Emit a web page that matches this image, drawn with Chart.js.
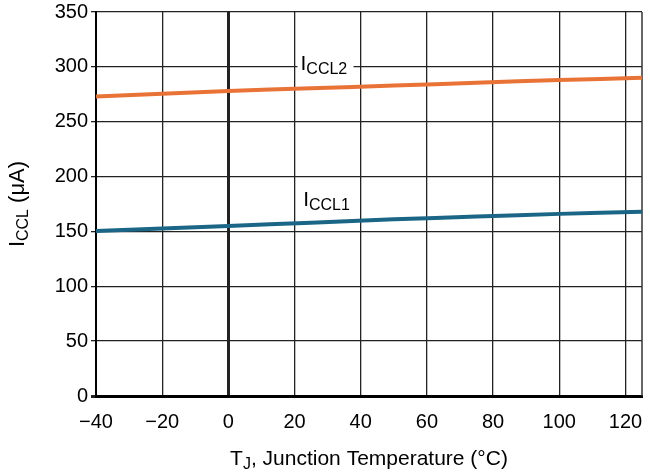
<!DOCTYPE html>
<html>
<head>
<meta charset="utf-8">
<script src="https://cdn.jsdelivr.net/npm/chart.js@4.4.1/dist/chart.umd.min.js"></script>
<style>
  html, body { margin: 0; padding: 0; background: #fff; }
  #wrap { width: 650px; height: 475px; }
</style>
</head>
<body>
<div id="wrap"><canvas id="chart"></canvas></div>
<script>
// values
const temps = [-40, 0, 25, 50, 75, 100, 125];
const iccl1 = [150.5, 155, 158, 161, 163.5, 166, 168];
const iccl2 = [273, 278, 280.5, 283, 285.5, 288, 290];
const xTicks = [-40, -20, 0, 20, 40, 60, 80, 100, 120];
const yTicks = [0, 50, 100, 150, 200, 250, 300, 350];

const FONT = '"Liberation Sans", Arial, Helvetica, sans-serif';

function toPoints(ys) {
    return temps.map(function (t, i) { return { x: t, y: ys[i] }; });
}

// draw "main" + subscript pieces one after another
function drawParts(ctx, parts, x, y, size, align) {
    var subSize = Math.round(size * 0.74);
    var width = 0;
    parts.forEach(function (p) {
        ctx.font = (p.sub ? subSize : size) + 'px ' + FONT;
        p.w = ctx.measureText(p.t).width;
        width += p.w;
    });
    var cx = align === 'center' ? x - width / 2 : x;
    ctx.textAlign = 'left';
    ctx.textBaseline = 'alphabetic';
    parts.forEach(function (p) {
        ctx.font = (p.sub ? subSize : size) + 'px ' + FONT;
        ctx.fillText(p.t, cx, y + (p.sub ? 4 : 0));
        cx += p.w;
    });
    return width;
}

const extras = {
    id: 'extras',
    beforeDatasetsDraw(chart) {
        const ctx = chart.ctx;
        const a = chart.chartArea;
        ctx.save();
        ctx.strokeStyle = '#333';
        ctx.lineWidth = 1.5;
        ctx.beginPath();
        ctx.moveTo(a.right, a.top);
        ctx.lineTo(a.right, a.bottom);
        ctx.stroke();
        ctx.restore();
    },
    afterDatasetsDraw(chart) {
        const ctx = chart.ctx;
        const xs = chart.scales.x, ys = chart.scales.y;
        ctx.save();
        ctx.fillStyle = '#000';

        // curve labels
        var lx = xs.getPixelForValue(21.8), ly = ys.getPixelForValue(297.5);
        ctx.fillStyle = '#fff';
        ctx.fillRect(lx - 3, ly - 17, 56, 24);
        ctx.fillStyle = '#000';
        drawParts(ctx, [{ t: 'I' }, { t: 'CCL2', sub: true }], lx, ly, 21, 'left');

        lx = xs.getPixelForValue(22.6);
        ly = ys.getPixelForValue(173);
        drawParts(ctx, [{ t: 'I' }, { t: 'CCL1', sub: true }], lx, ly, 21, 'left');

        // axis titles
        const a = chart.chartArea;
        drawParts(ctx, [{ t: 'T' }, { t: 'J', sub: true }, { t: ', Junction Temperature (°C)' }],
            (a.left + a.right) / 2, 465, 21, 'center');

        ctx.translate(24, (a.top + a.bottom) / 2);
        ctx.rotate(-Math.PI / 2);
        drawParts(ctx, [{ t: 'I' }, { t: 'CCL', sub: true }, { t: ' (μA)' }], 0, 0, 22, 'center');
        ctx.restore();
    }
};

new Chart(document.getElementById('chart'), {
    type: 'line',
    data: {
        datasets: [
            {
                label: 'ICCL1',
                data: toPoints(iccl1),
                borderColor: '#1B6686',
                borderWidth: 4,
                pointRadius: 0,
                tension: 0.3
            },
            {
                label: 'ICCL2',
                data: toPoints(iccl2),
                borderColor: '#E97336',
                borderWidth: 4,
                pointRadius: 0,
                tension: 0.3
            }
        ]
    },
    options: {
        responsive: true,
        maintainAspectRatio: false,
        animation: false,
        events: [],
        layout: { padding: { top: 12, right: 8, left: 0, bottom: 0 } },
        plugins: {
            legend: { display: false },
            tooltip: { enabled: false }
        },
        scales: {
            x: {
                type: 'linear',
                min: -40,
                max: 125,
                afterBuildTicks: function (scale) {
                    scale.ticks = xTicks.map(function (v) { return { value: v }; });
                },
                afterFit: function (scale) {
                    scale.height = 79;
                    scale.paddingLeft = 0;
                    scale.paddingRight = 0;
                },
                grid: {
                    color: '#222',
                    lineWidth: function (c) { return c.tick && c.tick.value === 0 ? 3 : (c.tick && c.tick.value === -40 ? 2 : 1.3); },
                    drawTicks: false
                },
                border: { display: true, color: '#000', width: 3 },
                ticks: {
                    padding: 14,
                    color: '#000',
                    font: { family: FONT, size: 20 },
                    maxRotation: 0,
                    callback: function (v) { return v < 0 ? '\u2212' + Math.abs(v) : String(v); }
                }
            },
            y: {
                min: 0,
                max: 350,
                afterBuildTicks: function (scale) {
                    scale.ticks = yTicks.map(function (v) { return { value: v }; });
                },
                afterFit: function (scale) {
                    scale.width = 96;
                    scale.paddingTop = 0;
                    scale.paddingBottom = 0;
                },
                grid: {
                    color: '#222',
                    lineWidth: function (c) { return c.tick && c.tick.value === 0 ? 3 : 1.3; },
                    tickLength: 5
                },
                border: { display: true, color: '#000', width: 2 },
                ticks: {
                    padding: 3,
                    color: '#000',
                    font: { family: FONT, size: 20 }
                }
            }
        }
    },
    plugins: [extras]
});
</script>
</body>
</html>
